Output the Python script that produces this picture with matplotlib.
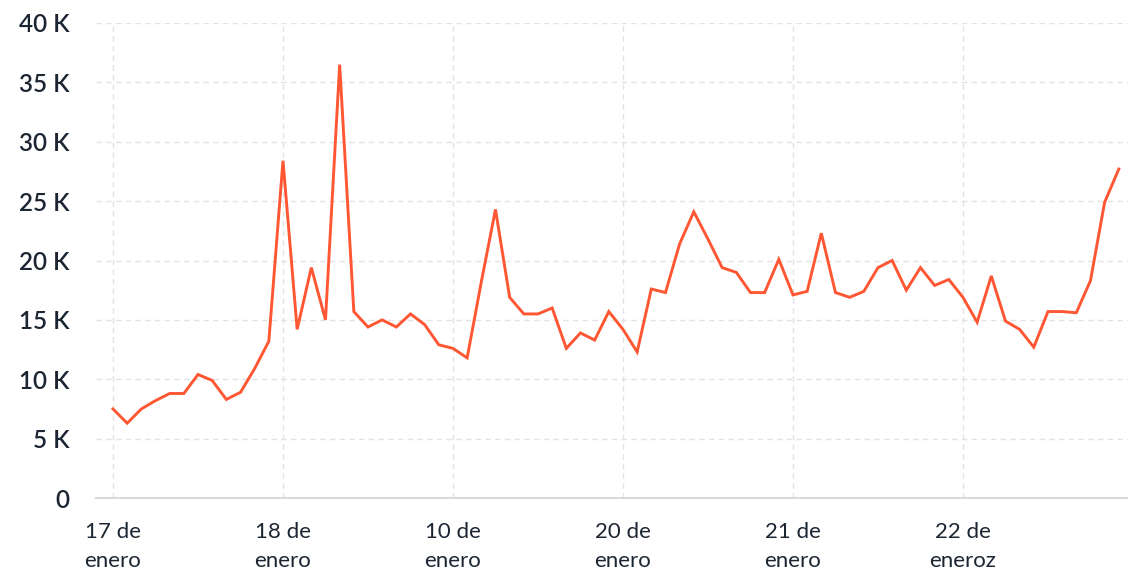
import matplotlib.pyplot as plt
from matplotlib.ticker import FuncFormatter

plt.rcParams['font.family'] = ['Lato', 'DejaVu Sans']

# valores cada 2 horas (miles)
dia17 = [7.5, 6.3, 7.5, 8.2, 8.8, 8.8, 10.4, 9.9, 8.3, 8.9, 10.9, 13.2]
dia18 = [28.4, 14.2, 19.4, 15.0, 36.5, 15.7, 14.4, 15.0, 14.4, 15.5, 14.6, 12.9]
dia19 = [12.6, 11.8, 18.2, 24.3, 16.9, 15.5, 15.5, 16.0, 12.6, 13.9, 13.3, 15.7]
dia20 = [14.2, 12.3, 17.6, 17.3, 21.4, 24.1, 21.8, 19.4, 19.0, 17.3, 17.3, 20.1]
dia21 = [17.1, 17.4, 22.3, 17.3, 16.9, 17.4, 19.4, 20.0, 17.5, 19.4, 17.9, 18.4]
dia22 = [16.9, 14.8, 18.7, 14.9, 14.2, 12.7, 15.7, 15.7, 15.6, 18.3, 24.9, 27.7]

valores = [v * 1000 for v in dia17 + dia18 + dia19 + dia20 + dia21 + dia22]
puntos_por_dia = 12

etiquetas = ['17 de\nenero', '18 de\nenero', '10 de\nenero',
             '20 de\nenero', '21 de\nenero', '22 de\neneroz']

fig = plt.figure(figsize=(11.28, 5.72), dpi=100)
ax = fig.add_axes([96 / 1128, 74 / 572, 1032 / 1128, 475 / 572])

ax.plot(range(len(valores)), valores, color='#ff5733', linewidth=2.1,
        solid_joinstyle='miter', zorder=3)

ax.set_ylim(0, 40000)
ax.set_xlim(-1.2, 71.65)
ax.set_yticks(range(0, 40001, 5000))
ax.yaxis.set_major_formatter(FuncFormatter(lambda v, p: '0' if v == 0 else f'{int(v / 1000)} K'))
ax.set_xticks([i * puntos_por_dia for i in range(len(etiquetas))])
ax.set_xticklabels(etiquetas, linespacing=1.6)

txt = '#1c2633'
ax.tick_params(axis='y', length=0, pad=19, labelsize=17.5, labelcolor=txt)
ax.tick_params(axis='x', length=0, pad=17, labelsize=16, labelcolor=txt)
for lab in ax.get_yticklabels():
    lab.set_fontweight('semibold')

ax.grid(True, color='#e3e3e3', linestyle=(0, (4, 3)), linewidth=1)
ax.set_axisbelow(True)
for s in ['top', 'right', 'left']:
    ax.spines[s].set_visible(False)
ax.spines['bottom'].set_color('#d9d9d9')
ax.spines['bottom'].set_linewidth(1.5)

fig.savefig('out.png', dpi=100)
